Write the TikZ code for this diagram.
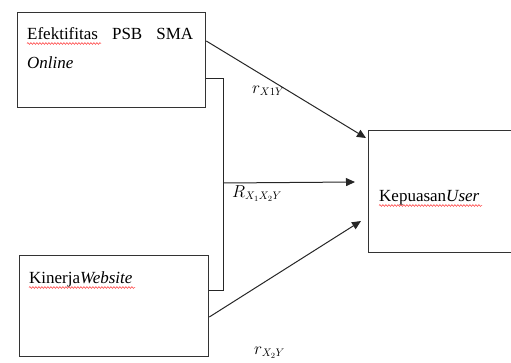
\documentclass[tikz,border=0pt]{standalone}
\usepackage{fontspec}
\setmainfont{Liberation Serif}
\usetikzlibrary{arrows.meta,decorations.pathmorphing}
\tikzset{
  box/.style={draw=black!80, line width=1.3pt, fill=none, inner sep=0pt, anchor=north west},
  txt/.style={inner sep=0pt, anchor=base west, font=\fontsize{17}{20}\selectfont},
  lbl/.style={inner sep=0pt, anchor=base west, font=\fontsize{16}{18}\selectfont},
  conn/.style={draw=black!85, line width=1pt},
  arr/.style={conn, -{Triangle[length=9pt,width=8pt]}},
  squig/.style={draw=red!80, line width=0.5pt, decorate, decoration={snake, amplitude=0.9pt, segment length=3pt}}
}
\begin{document}
\begin{tikzpicture}[x=1pt,y=-1pt]
\useasboundingbox (0,0) rectangle (511,362);
% boxes
\node[box, minimum width=188pt, minimum height=95pt] (b1) at (17,12) {};
\node[box, minimum width=189pt, minimum height=101pt] (b2) at (19,255) {};
\node[box, minimum width=160pt, minimum height=122pt] (b3) at (368,130) {};
% texts
\node[txt] (t1) at (27,39) {\makebox[166pt][s]{Efektifitas PSB SMA}};
\node[txt] (t1b) at (27,68) {\itshape Online};
\node[txt] (t2) at (29,283) {Kinerja\textit{Website}};
\node[txt] (t3) at (379,201) {Kepuasan\textit{User}};
% spelling squiggles
\draw[squig] (27,43.5) -- (101,43.5);
\draw[squig] (29,287.5) -- (135,287.5);
\draw[squig] (379,205.5) -- (482,205.5);
% bracket
\coordinate (k1) at (223,78);
\coordinate (k2) at (223,290);
\coordinate (k3) at (223,183);
\draw[conn] (b1.east |- k1) -- (k1) -- (k2) -- (b2.east |- k2);
% arrows
\coordinate (e1) at (366,138);
\coordinate (e2) at (355,182);
\coordinate (e3) at (361,221);
\draw[arr] (b1.east |- 0,41) -- (e1);
\draw[arr] (k3) -- (e2);
\draw[arr] (b2.east |- 0,317) -- (e3);
% labels
\node[lbl] (l1) at (252,93) {$r_{X1Y}$};
\node[lbl] (l2) at (232,197) {$R_{X_1X_2Y}$};
\node[lbl] (l3) at (254,354) {$r_{X_2Y}$};
\end{tikzpicture}
\end{document}
